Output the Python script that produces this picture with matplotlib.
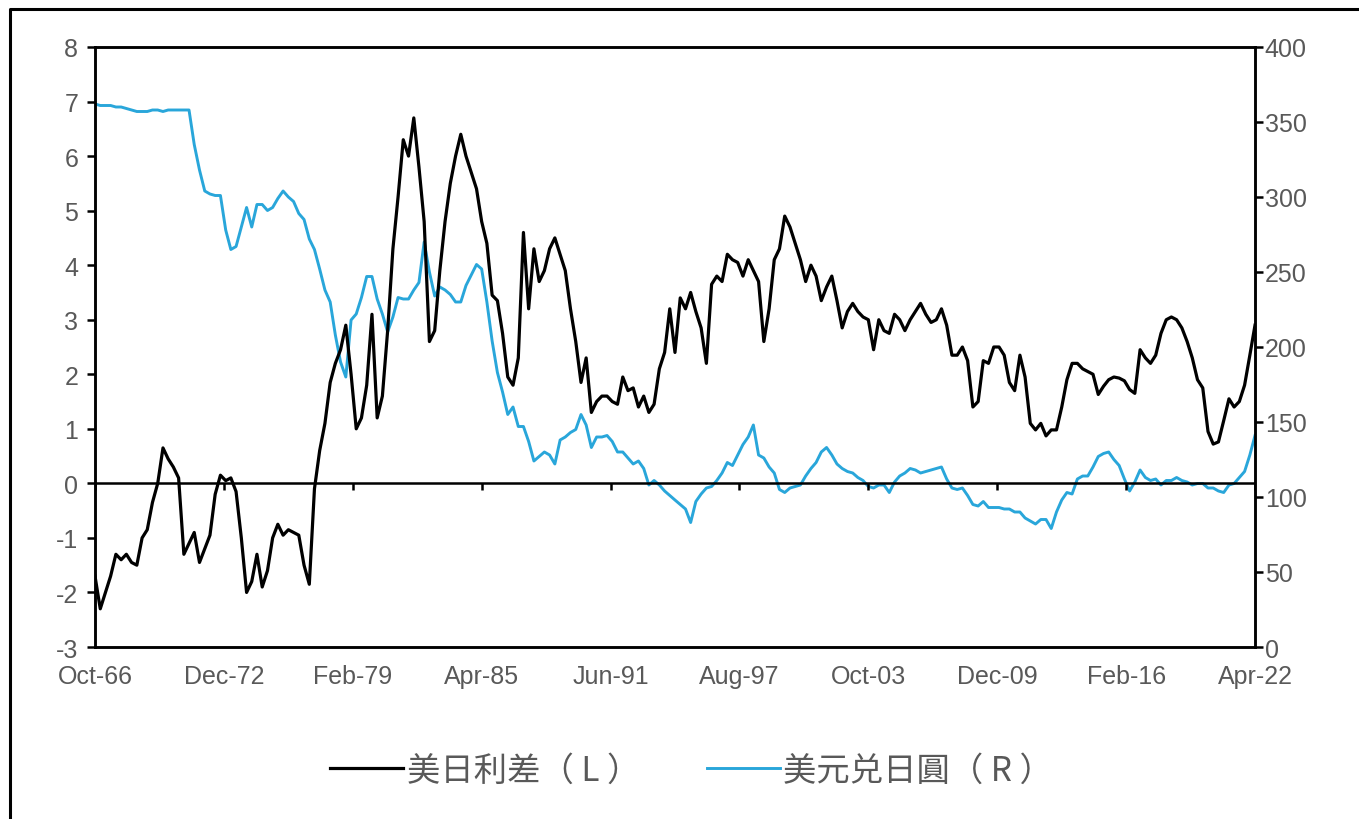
import datetime
import matplotlib
matplotlib.use("Agg")
import matplotlib.pyplot as plt
import matplotlib.dates as mdates
from matplotlib.markers import TICKDOWN
from matplotlib.lines import Line2D

plt.rcParams['font.family'] = ['Liberation Sans', 'Noto Sans CJK SC', 'DejaVu Sans']
plt.rcParams['axes.unicode_minus'] = False

# quarterly readings, Oct-66 .. Apr-22
spread = [
    -1.7, -2.3, -2.0, -1.7, -1.3, -1.4, -1.3, -1.45, -1.5, -1.0,
    -0.85, -0.35, 0.0, 0.65, 0.45, 0.3, 0.1, -1.3, -1.1, -0.9,
    -1.45, -1.2, -0.95, -0.2, 0.15, 0.05, 0.1, -0.15, -1.0, -2.0,
    -1.8, -1.3, -1.9, -1.6, -1.0, -0.75, -0.95, -0.85, -0.9, -0.95,
    -1.5, -1.85, -0.1, 0.6, 1.1, 1.85, 2.2, 2.45, 2.9, 2.0,
    1.0, 1.2, 1.8, 3.1, 1.2, 1.6, 2.8, 4.3, 5.25, 6.3,
    6.0, 6.7, 5.8, 4.8, 2.6, 2.8, 3.9, 4.8, 5.5, 6.0,
    6.4, 6.0, 5.7, 5.4, 4.8, 4.4, 3.45, 3.35, 2.75, 1.95,
    1.8, 2.3, 4.6, 3.2, 4.3, 3.7, 3.9, 4.3, 4.5, 4.2,
    3.9, 3.2, 2.6, 1.85, 2.3, 1.3, 1.5, 1.6, 1.6, 1.5,
    1.45, 1.95, 1.7, 1.75, 1.4, 1.6, 1.3, 1.45, 2.1, 2.4,
    3.2, 2.4, 3.4, 3.2, 3.5, 3.15, 2.85, 2.2, 3.65, 3.8,
    3.7, 4.2, 4.1, 4.05, 3.8, 4.1, 3.9, 3.7, 2.6, 3.2,
    4.1, 4.3, 4.9, 4.7, 4.4, 4.1, 3.7, 4.0, 3.8, 3.35,
    3.6, 3.8, 3.35, 2.85, 3.15, 3.3, 3.15, 3.05, 3.0, 2.45,
    3.0, 2.8, 2.75, 3.1, 3.0, 2.8, 3.0, 3.15, 3.3, 3.1,
    2.95, 3.0, 3.2, 2.9, 2.35, 2.35, 2.5, 2.25, 1.4, 1.5,
    2.25, 2.2, 2.5, 2.5, 2.35, 1.85, 1.7, 2.35, 1.95, 1.1,
    0.98, 1.1, 0.87, 0.98, 0.98, 1.4, 1.9, 2.2, 2.2, 2.1,
    2.05, 2.0, 1.63, 1.78, 1.9, 1.95, 1.93, 1.88, 1.72, 1.65,
    2.45, 2.3, 2.2, 2.35, 2.75, 3.0, 3.05, 3.0, 2.85, 2.6,
    2.3, 1.9, 1.75, 0.95, 0.72, 0.76, 1.15, 1.55, 1.4, 1.5,
    1.8, 2.35, 2.9,
]

usdjpy = [
    362, 361, 361, 361, 360, 360, 359, 358, 357, 357,
    357, 358, 358, 357, 358, 358, 358, 358, 358, 335,
    318, 304, 302, 301, 301, 278, 265, 267, 280, 293,
    280, 295, 295, 291, 293, 299, 304, 300, 297, 289,
    285, 272, 265, 252, 238, 230, 208, 190, 180, 218,
    222, 233, 247, 247, 232, 222, 210, 220, 233, 232,
    232, 238, 243, 270, 250, 234, 240, 238, 235, 230,
    230, 241, 248, 255, 252, 230, 204, 183, 170, 155,
    160, 147, 147, 137, 124, 127, 130, 128, 122, 138,
    140, 143, 145, 155, 148, 133, 140, 140, 141, 137,
    130, 130, 126, 122, 124, 119, 108, 111, 108, 104,
    101, 98, 95, 92, 83, 97, 102, 106, 107, 111,
    116, 123, 121, 128, 135, 140, 148, 128, 126, 120,
    116, 105, 103, 106, 107, 108, 114, 119, 123, 130,
    133, 128, 122, 119, 117, 116, 113, 111, 107, 106,
    108, 108, 103, 110, 114, 116, 119, 118, 116, 117,
    118, 119, 120, 112, 106, 105, 106, 101, 95, 94,
    97, 93, 93, 93, 92, 92, 90, 90, 86, 84,
    82, 85, 85, 79, 90, 98, 103, 102, 112, 114,
    114, 120, 127, 129, 130, 125, 121, 112, 104, 110,
    118, 113, 111, 112, 108, 111, 111, 113, 111, 110,
    108, 109, 109, 106, 106, 104, 103, 108, 109, 113,
    117, 128, 141,
]

tick_labels = ["Oct-66", "Dec-72", "Feb-79", "Apr-85", "Jun-91",
               "Aug-97", "Oct-03", "Dec-09", "Feb-16", "Apr-22"]
legend_labels = ["美日利差（ L ）", "美元兑日圓（ R ）"]

assert len(spread) == len(usdjpy)


def month_add(start, n):
    y = start.year + (start.month - 1 + n) // 12
    m = (start.month - 1 + n) % 12 + 1
    return datetime.date(y, m, 1)


start = datetime.date(1966, 10, 1)
x = mdates.date2num([month_add(start, 3 * i) for i in range(len(spread))])
ticks = mdates.date2num([month_add(start, 74 * i) for i in range(len(tick_labels))])

gray = "#595959"
blue = "#29a6da"

fig = plt.figure(figsize=(13.59, 8.2), dpi=100)
ax = fig.add_axes([95 / 1359, 1 - 648 / 820, (1255 - 95) / 1359, 600 / 820])
ax2 = ax.twinx()

ax.plot(x, spread, color="black", lw=2.3, zorder=3)
ax2.plot(x, usdjpy, color=blue, lw=2.1, zorder=2)
ax.set_zorder(ax2.get_zorder() + 1)
ax.patch.set_visible(False)

# zero line with its tick marks
ax.axhline(0, color="black", lw=1.8, zorder=4)
ax.plot(ticks, [0] * len(ticks), ls="none", marker=TICKDOWN, ms=5,
        mew=1.8, color="black", zorder=4)

ax.set_xlim(x[0], x[-1])
ax.set_ylim(-3, 8)
ax.set_yticks(range(-3, 9))
ax2.set_ylim(0, 400)
ax2.set_yticks(range(0, 401, 50))
ax.set_xticks(ticks)
ax.set_xticklabels(tick_labels)

for a in (ax, ax2):
    for s in a.spines.values():
        s.set_linewidth(1.8)
        s.set_color("black")

ax.tick_params(axis="x", length=0, pad=12, labelsize=18, labelcolor=gray)
ax.tick_params(axis="y", length=6, width=1.8, pad=6, labelsize=18, labelcolor=gray)
ax2.tick_params(axis="y", length=6, width=1.8, pad=1, labelsize=18, labelcolor=gray)

handles = [Line2D([], [], color="black", lw=2.3), Line2D([], [], color=blue, lw=2.1)]
fig.legend(handles, legend_labels, loc="center", bbox_to_anchor=(0.509, 0.06),
           ncol=2, frameon=False, handlelength=2.2, handletextpad=0.1,
           columnspacing=2.0, prop={"family": ["Noto Sans CJK SC"], "size": 24},
           labelcolor=gray)

# outer frame (left and top edges visible)
fig.add_artist(Line2D([10 / 1359, 10 / 1359, 1.0], [0.0, 1 - 10 / 820, 1 - 10 / 820],
                      transform=fig.transFigure, color="black", lw=2.2))

fig.savefig("out.png", dpi=100)
